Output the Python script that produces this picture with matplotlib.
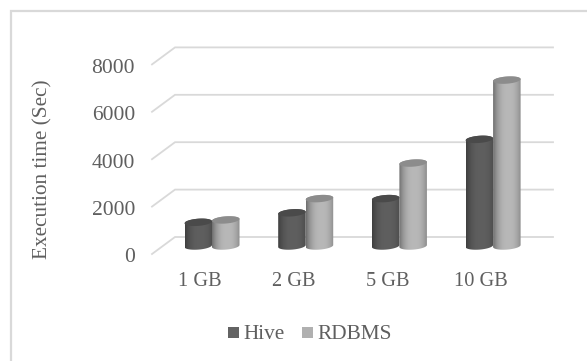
import matplotlib
matplotlib.use('Agg')
import matplotlib.pyplot as plt
from matplotlib.patches import Polygon, Rectangle
import numpy as np

W, H = 587, 361
categories = ['1 GB', '2 GB', '5 GB', '10 GB']
hive = [1000, 1400, 2000, 4500]
rdbms = [1100, 2000, 3500, 7000]
yticks = [0, 2000, 4000, 6000, 8000]

plt.rcParams['font.family'] = ['Liberation Serif', 'DejaVu Serif']
TXT = '#5f5f5f'
GRID = '#d9d9d9'

fig = plt.figure(figsize=(W/100, H/100), dpi=100)
ax = fig.add_axes([0, 0, 1, 1])
ax.axis('off')

# pixels -> data: category 0 sits at px 212, step 94 / y=0 at px 246, 2000 = 47.4 px
PX_X = 93.7
PX_Y = 47.4/2000

def dx(p): return p/PX_X
def dy(p): return p/PX_Y

# chart frame, only top and left are visible in the picture
fx0, fx1, fy0, fy1 = 11, 587, 361, 10.5
ax.plot([dx(fx0-212), dx(fx0-212), dx(fx1-212)],
        [dy(246-fy0), dy(246-fy1), dy(246-fy1)],
        color=GRID, lw=1.6, zorder=1, solid_joinstyle='miter')

# grid, floor side then back wall
x_front, x_back, x_end = dx(152-212), dx(175-212), dx(553-212)
for v in yticks:
    ax.plot([x_front, x_back, x_end], [v+dy(-8), v+dy(9), v+dy(9)],
            color=GRID, lw=1.3, zorder=2, solid_joinstyle='miter')
    ax.text(dx(135-212), v+dy(-12), str(v), ha='right', va='center', fontsize=15.5, color=TXT)

for i, c in enumerate(categories):
    ax.text(i-dx(12), dy(246-281), c, ha='center', va='center', fontsize=14.7, color=TXT)

ax.text(dx(43-212), dy(246-169), 'Execution time (Sec)', rotation=90, ha='center', va='center',
        fontsize=15.3, color=TXT)

def cylinder(x0, x1, v, edge, mid, top):
    w = x1-x0
    xc = (x0+x1)/2
    a = w/2
    b = dy(3.6)
    k = dy(2.0)/w
    t = np.linspace(0, np.pi, 40)
    xs = xc+a*np.cos(t)
    px = np.r_[xs, xs[::-1]]
    py = np.r_[-b*np.sin(t)+k*(xs-xc), v+b*np.sin(t[::-1])+k*(xs[::-1]-xc)]
    body = Polygon(np.c_[px, py], closed=True, fc='none', ec='none', zorder=4)
    ax.add_patch(body)
    s = np.linspace(0, 1, 64)
    shade = (np.abs(s-0.55)/0.55)**2.5
    e = np.array(matplotlib.colors.to_rgb(edge))
    m = np.array(matplotlib.colors.to_rgb(mid))
    img = m[None, :]*(1-shade[:, None])+e[None, :]*shade[:, None]
    im = ax.imshow(img[None, :, :], extent=[x0, x1, -2*b, v+2*b], aspect='auto', zorder=4,
                   interpolation='bilinear')
    im.set_clip_path(body)
    th = np.linspace(0, 2*np.pi, 60)
    xt = xc+a*np.cos(th)
    yt = v+b*np.sin(th)+k*(xt-xc)
    ax.add_patch(Polygon(np.c_[xt, yt], closed=True, fc=top, ec='none', zorder=5))

bw = 27.5/PX_X
for i in range(len(categories)):
    cylinder(i-bw, i, hive[i], '#3f3f3f', '#5f5f5f', '#4a4a4a')
    cylinder(i, i+bw, rdbms[i], '#6f6f6f', '#b8b8b8', '#8c8c8c')

# legend
ly = 332.5
for lx, col, name in [(228, '#636363', 'Hive'), (302, '#b0b0b0', 'RDBMS')]:
    ax.add_patch(Rectangle((dx(lx-212), dy(246-ly-5.5)), dx(11), dy(11), fc=col, ec='none', zorder=5))
    ax.text(dx(lx+15-212), dy(246-ly-2), name, ha='left', va='center', fontsize=15.3, color=TXT)

# imshow resets the limits, so set them last
ax.set_xlim((0-212)/PX_X, (W-212)/PX_X)
ax.set_ylim((246-H)/PX_Y, 246/PX_Y)

fig.savefig('out.png', dpi=100)
